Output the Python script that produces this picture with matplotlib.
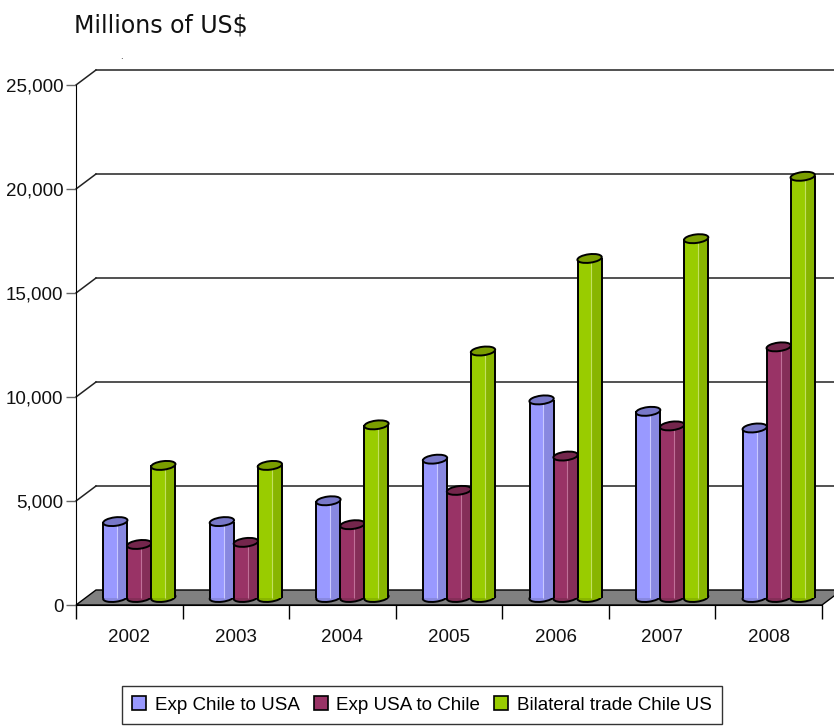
import matplotlib
matplotlib.use('Agg')
import matplotlib.pyplot as plt
from matplotlib.patches import Ellipse, Polygon, Rectangle
from matplotlib.transforms import Affine2D, ScaledTranslation
import numpy as np

years = ['2002', '2003', '2004', '2005', '2006', '2007', '2008']
exp_chile_usa = [3650, 3650, 4650, 6650, 9500, 8950, 8150]
exp_usa_chile = [2550, 2650, 3500, 5150, 6800, 8250, 12050]
bilateral = [6350, 6350, 8300, 11850, 16300, 17250, 20250]
series = [exp_chile_usa, exp_usa_chile, bilateral]
names = ['Exp Chile to USA', 'Exp USA to Chile', 'Bilateral trade Chile US']
yticks = [0, 5000, 10000, 15000, 20000, 25000]

colors = ['#9999FF', '#993366', '#99CC00']
darks = ['#8888E0', '#852E58', '#88B500']
lights = ['#C8C8FF', '#C07098', '#C2E060']
caps = ['#7878C8', '#74264C', '#7A9E00']

label_font = ['Liberation Sans', 'DejaVu Sans']

W, H = 834, 726
fig = plt.figure(figsize=(W / 100, H / 100), dpi=100)
ax = fig.add_axes([76 / W, 121 / H, 746 / W, 520 / H])
ax.set_xlim(-0.5, len(years) - 0.5)
ax.set_ylim(0, 25000)

# pixel -> data conversion on the front plane
px_x = 746 / len(years)
px_y = 520 / 25000


def shifted(dx, dy):
    return ax.transData + ScaledTranslation(dx / 100, dy / 100, fig.dpi_scale_trans)


mid = shifted(10, 7.5)
back = shifted(20, 15)
bx, by = 20 / px_x, 15 / px_y
x0, x1 = -0.5, len(years) - 0.5

# floor
floor = Polygon([(x0, 0), (x1, 0), (x1 + bx, by), (x0 + bx, by)], closed=True,
                facecolor='#808080', edgecolor='black', lw=1, zorder=1, clip_on=False)
ax.add_patch(floor)

# back wall gridlines + side diagonals
for v in yticks[1:]:
    ax.plot([x0, x1], [v, v], transform=back, color='#222222', lw=1.1,
            clip_on=False, zorder=0.5)
    ax.plot([x0, x0 + bx], [v, v + by], color='#222222', lw=1.1,
            clip_on=False, zorder=0.5)


def disc(xx, v, fc, z):
    # tilted ellipse sized in pixels, anchored at a data point on the mid plane
    tr = Affine2D().rotate_deg(7) + ScaledTranslation(xx, v, mid)
    return Ellipse((0, 0), 24.5, 8.5, transform=tr, facecolor=fc,
                   edgecolor='black', lw=1.4, zorder=z, clip_on=False)


# cylinders
x = np.arange(len(years))
w = 24 / px_x
for i, vals in enumerate(series):
    xc = x + (i - 1) * w
    z = 3 + i
    for xx, v in zip(xc, vals):
        ax.add_patch(disc(xx, 0, darks[i], z))
    ax.bar(xc - w / 2, vals, width=w * 0.58, align='edge', color=colors[i],
           transform=mid, zorder=z + 0.1, clip_on=False)
    ax.bar(xc - w / 2 + w * 0.58, vals, width=w * 0.42, align='edge', color=darks[i],
           transform=mid, zorder=z + 0.1, clip_on=False)
    ax.vlines(xc - w / 2 + w * 0.58, 0, vals, color=lights[i], lw=0.8,
              transform=mid, zorder=z + 0.2)
    ax.vlines(xc - w / 2, 0, vals, color='black', lw=1.4, transform=mid, zorder=z + 0.3)
    ax.vlines(xc + w / 2, 0, vals, color='black', lw=1.4, transform=mid, zorder=z + 0.3)
    for xx, v in zip(xc, vals):
        ax.add_patch(disc(xx, v, caps[i], z + 0.4))

# axes styling
for s in ['top', 'right']:
    ax.spines[s].set_visible(False)
ax.spines['left'].set_color('black')
ax.spines['bottom'].set_color('black')
ax.spines['bottom'].set_zorder(2)
ax.set_yticks(yticks)
ax.set_yticklabels([f'{v:,}' for v in yticks], fontsize=13.5, family=label_font,
                   color='#111111')
ax.tick_params(axis='y', direction='out', length=7, width=1, color='#666666', pad=2)
ax.set_xticks(x)
ax.set_xticklabels(years, fontsize=13.5, family=label_font, color='#111111')
ax.set_xticks(np.arange(len(years) + 1) - 0.5, minor=True)
ax.tick_params(axis='x', which='major', length=0, pad=17)
ax.tick_params(axis='x', which='minor', direction='out', length=10, width=1, color='black')
ax.patch.set_visible(False)

fig.text(74 / W, 1 - 13 / H, 'Millions of US$', fontsize=17, va='top', ha='left',
         family='DejaVu Sans', color='#111111')
fig.text(120 / W, 1 - 52 / H, '.', fontsize=6, va='top', ha='left')

handles = [Rectangle((0, 0), 1, 1, facecolor=c, edgecolor='black', lw=1.2) for c in colors]
leg = fig.legend(handles, names, loc='upper left', bbox_to_anchor=(122 / W, 1 - 686 / H),
                 ncol=3, frameon=True, fancybox=False, edgecolor='black',
                 prop={'family': label_font, 'size': 13.5}, handlelength=0.75,
                 handleheight=0.75, handletextpad=0.45, columnspacing=0.75,
                 borderpad=0.55, borderaxespad=0)
leg.get_frame().set_linewidth(1)

fig.savefig('out.png', dpi=100)
